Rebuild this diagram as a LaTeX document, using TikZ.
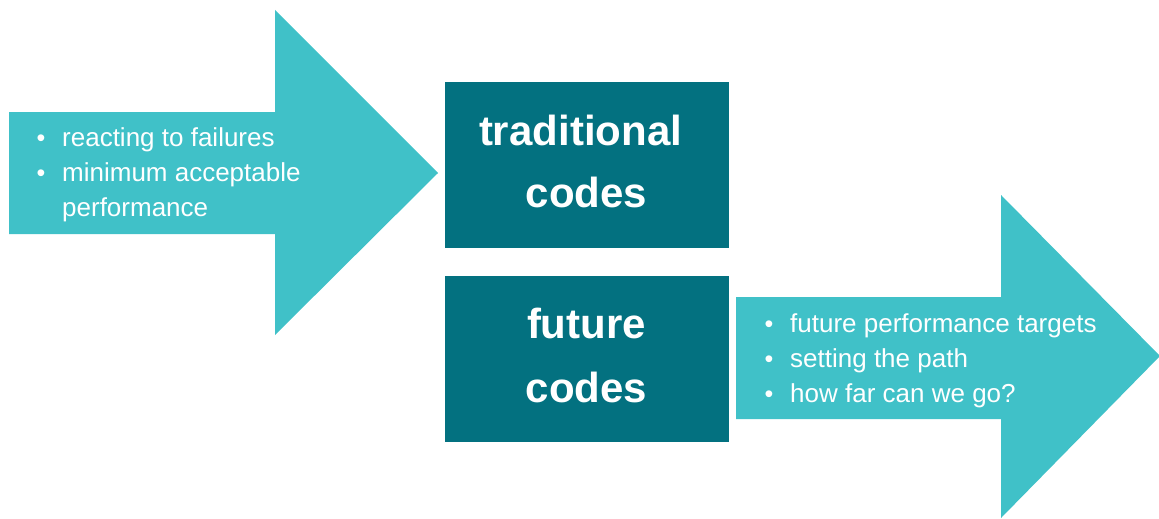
\documentclass[tikz,border=0pt]{standalone}
\usepackage{fontspec}
\setmainfont{Liberation Sans}
\definecolor{lightteal}{HTML}{40C1C8}
\definecolor{darkteal}{HTML}{037180}
\begin{document}
\begin{tikzpicture}[x=1pt,y=-1pt,
  codebox/.style={fill=darkteal, draw=none, minimum width=284pt, minimum height=166pt, inner sep=0pt},
  itemtext/.style={anchor=base west, inner sep=0pt, text=white, font=\fontsize{26}{31}\selectfont},
  bulletdot/.style={anchor=base, inner sep=0pt, text=white, font=\fontsize{25}{30}\selectfont},
  boxtitle/.style={anchor=base, inner sep=0pt, text=white, font=\fontsize{42}{50}\selectfont\bfseries}]
\useasboundingbox (0,0) rectangle (1159,519);

% incoming arrow
\fill[lightteal] (9,112) -- (275,112) -- (275,10) -- (438,173) -- (275,335) -- (275,234) -- (9,234) -- cycle;
% outgoing arrow
\fill[lightteal] (736,297) -- (1001,297) -- (1001,195) -- (1160,356) -- (1001,518) -- (1001,419) -- (736,419) -- cycle;

% code boxes
\node[codebox] (trad) at (587,164.5) {};
\node[codebox] (future) at (587,359) {};
\node[boxtitle] (tradA) at (580.5,145) {traditional};
\node[boxtitle] (tradB) at (586.5,207) {codes};
\node[boxtitle] (futA) at (586.5,338) {future};
\node[boxtitle] (futB) at (586.5,402) {codes};

% incoming list
\node[bulletdot] (lb1) at (41,146) {•};
\node[itemtext] (li1) at (62,146) {reacting to failures};
\node[bulletdot] (lb2) at (41,181) {•};
\node[itemtext] (li2) at (62,181) {minimum acceptable};
\node[itemtext] (li3) at (62,216) {performance};

% outgoing list
\node[bulletdot] (rb1) at (769,332) {•};
\node[itemtext] (ri1) at (790,332) {future performance targets};
\node[bulletdot] (rb2) at (769,367) {•};
\node[itemtext] (ri2) at (790,367) {setting the path};
\node[bulletdot] (rb3) at (769,402) {•};
\node[itemtext] (ri3) at (790,402) {how far can we go?};
\end{tikzpicture}
\end{document}
